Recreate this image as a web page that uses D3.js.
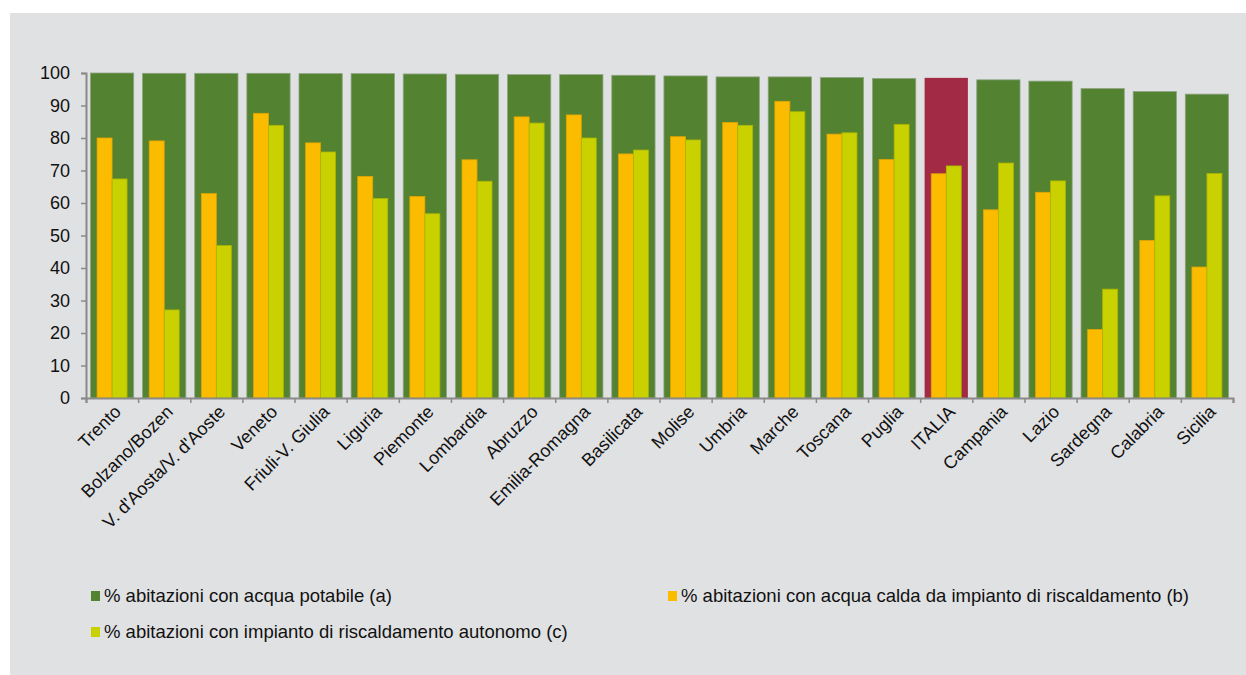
<!DOCTYPE html>
<html>
<head>
<meta charset="utf-8">
<script src="https://cdn.jsdelivr.net/npm/d3@7"></script>
<style>
  html, body { margin: 0; padding: 0; background: #ffffff; }
  svg { display: block; font-family: "Liberation Sans", Arial, sans-serif; }
</style>
</head>
<body>
<svg id="chart" width="1246" height="675"></svg>
<script>
// Regions, ordered by share of dwellings with drinking water
const regions = ["Trento", "Bolzano/Bozen", "V. d'Aosta/V. d'Aoste", "Veneto", "Friuli-V. Giulia",
  "Liguria", "Piemonte", "Lombardia", "Abruzzo", "Emilia-Romagna", "Basilicata", "Molise",
  "Umbria", "Marche", "Toscana", "Puglia", "ITALIA", "Campania", "Lazio", "Sardegna",
  "Calabria", "Sicilia"];

// (a) % abitazioni con acqua potabile
const acquaPotabile = [100, 99.9, 99.9, 99.9, 99.8, 99.8, 99.7, 99.6, 99.5, 99.5, 99.3, 99.1,
  98.8, 98.8, 98.6, 98.3, 98.5, 97.9, 97.5, 95.2, 94.3, 93.5];

// (b) % abitazioni con acqua calda da impianto di riscaldamento
const acquaCalda = [80.0, 79.1, 62.9, 87.6, 78.5, 68.2, 62.0, 73.3, 86.5, 87.1, 75.1, 80.4,
  84.8, 91.3, 81.2, 73.4, 69.0, 57.9, 63.3, 21.1, 48.5, 40.3];

// (c) % abitazioni con impianto di riscaldamento autonomo
const riscAutonomo = [67.4, 27.1, 46.9, 83.9, 75.7, 61.4, 56.7, 66.7, 84.6, 80.0, 76.3, 79.4,
  83.9, 88.1, 81.6, 84.2, 71.4, 72.3, 66.8, 33.5, 62.2, 69.1];

const yTicks = [0, 10, 20, 30, 40, 50, 60, 70, 80, 90, 100];

const legendLabels = [
  "% abitazioni con acqua potabile (a)",
  "% abitazioni con acqua calda da impianto di riscaldamento (b)",
  "% abitazioni con impianto di riscaldamento autonomo (c)"
];

const colors = {
  a: "#538230", aStroke: "#8fa483",
  italia: "#a22a45",
  b: "#fbbc00", bStroke: "#e0a300",
  c: "#c9d100", cStroke: "#aab400"
};

const svg = d3.select("#chart");

// panel background
svg.append("rect")
  .attr("x", 10).attr("y", 13)
  .attr("width", 1236).attr("height", 662)
  .attr("fill", "#e0e1e3");

const plot = { left: 86, right: 1233, top: 73, bottom: 398 };

const x = d3.scaleBand()
  .domain(regions)
  .range([plot.left, plot.right])
  .paddingInner(0.17)
  .paddingOuter(0.085);

const sub = d3.scaleBand()
  .domain(["b", "c"])
  .range([x.bandwidth() / 2 - 15, x.bandwidth() / 2 + 15]);

const y = d3.scaleLinear().domain([0, 100]).range([plot.bottom, plot.top]);

const rows = regions.map((r, i) => ({
  region: r, a: acquaPotabile[i], b: acquaCalda[i], c: riscAutonomo[i]
}));

// (a) wide background bars
svg.append("g").selectAll("rect")
  .data(rows)
  .join("rect")
  .attr("x", d => x(d.region))
  .attr("y", d => y(d.a))
  .attr("width", x.bandwidth())
  .attr("height", d => y(0) - y(d.a))
  .attr("fill", d => d.region === "ITALIA" ? colors.italia : colors.a)
  .attr("stroke", d => d.region === "ITALIA" ? "none" : colors.aStroke)
  .attr("stroke-width", 0.8);

// (b) and (c) narrow bars
const groups = svg.append("g").selectAll("g")
  .data(rows)
  .join("g")
  .attr("transform", d => `translate(${x(d.region)},0)`);

groups.selectAll("rect")
  .data(d => [{ k: "b", v: d.b }, { k: "c", v: d.c }])
  .join("rect")
  .attr("x", d => sub(d.k))
  .attr("y", d => y(d.v))
  .attr("width", sub.bandwidth())
  .attr("height", d => y(0) - y(d.v))
  .attr("fill", d => colors[d.k])
  .attr("stroke", d => colors[d.k + "Stroke"])
  .attr("stroke-width", 0.8);

// y axis
const yAxis = svg.append("g")
  .attr("transform", `translate(${plot.left},0)`)
  .call(d3.axisLeft(y).tickValues(yTicks).tickSize(5).tickPadding(11));
yAxis.select(".domain").attr("stroke", "#8a8a8a").attr("stroke-width", 2);
yAxis.selectAll(".tick line").attr("stroke", "#8a8a8a").attr("stroke-width", 1.5);
yAxis.selectAll(".tick text")
  .attr("fill", "#111").attr("font-size", 18)
  .attr("font-family", "Liberation Sans, Arial, sans-serif");

// x axis: line with ticks on category boundaries
const boundary = d3.scaleLinear().domain([0, regions.length]).range([plot.left, plot.right]);
const xAxis = svg.append("g")
  .attr("transform", `translate(0,${plot.bottom})`)
  .call(d3.axisBottom(boundary).tickValues(d3.range(regions.length + 1)).tickSize(5).tickFormat(""));
xAxis.select(".domain").attr("stroke", "#8a8a8a").attr("stroke-width", 2);
xAxis.selectAll(".tick line").attr("stroke", "#8a8a8a").attr("stroke-width", 1.5);

// category labels, rotated
svg.append("g").selectAll("text")
  .data(regions)
  .join("text")
  .attr("transform", d => `translate(${x(d) + x.bandwidth() / 2 + 10},${plot.bottom + 15}) rotate(-45)`)
  .attr("text-anchor", "end")
  .attr("font-size", 18)
  .attr("fill", "#111")
  .text(d => d);

// legend
const legendItems = [
  { label: legendLabels[0], color: colors.a, x: 91, y: 596 },
  { label: legendLabels[1], color: colors.b, x: 668, y: 596 },
  { label: legendLabels[2], color: colors.c, x: 91, y: 632 }
];
const lg = svg.append("g").selectAll("g")
  .data(legendItems)
  .join("g")
  .attr("transform", d => `translate(${d.x},${d.y})`);
lg.append("rect")
  .attr("x", 0).attr("y", -5)
  .attr("width", 9).attr("height", 10)
  .attr("fill", d => d.color);
lg.append("text")
  .attr("x", 13).attr("y", 6)
  .attr("font-size", 18.5)
  .attr("fill", "#111")
  .text(d => d.label);
</script>
</body>
</html>
